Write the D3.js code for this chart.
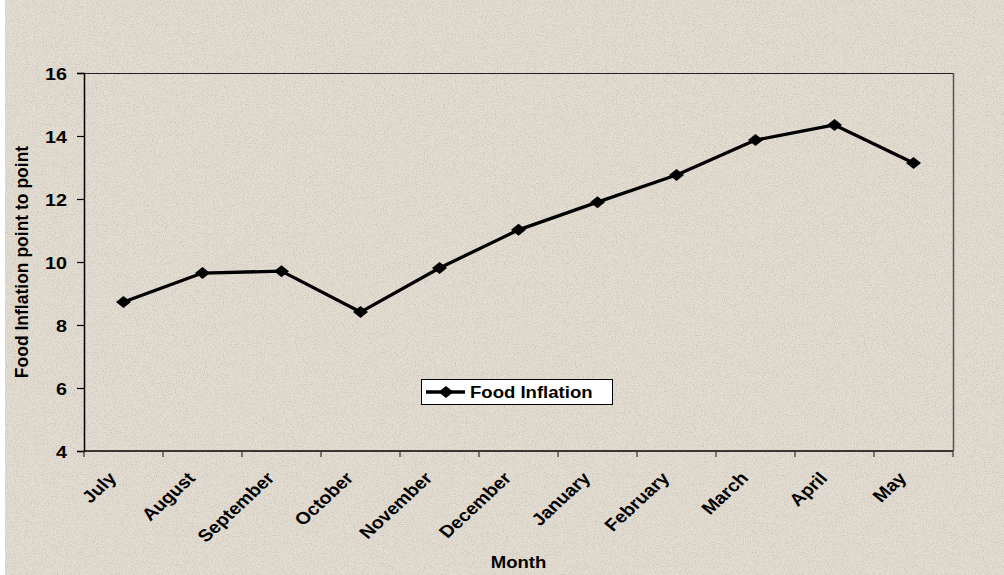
<!DOCTYPE html>
<html>
<head>
<meta charset="utf-8">
<script src="https://cdn.jsdelivr.net/npm/d3@7"></script>
<style>
  html, body { margin: 0; padding: 0; background: #ffffff; }
  svg { display: block; }
  text { font-family: "Liberation Sans", Arial, sans-serif; font-weight: bold; fill: #000; }
</style>
</head>
<body>
<svg id="chart" width="1004" height="575"></svg>
<script>
// Monthly food inflation (point to point, %)
const months = ["July", "August", "September", "October", "November", "December",
                "January", "February", "March", "April", "May"];
const foodInflation = [8.73, 9.65, 9.71, 8.41, 9.81, 11.02, 11.9, 12.76, 13.87, 14.35, 13.14];
const yTicks = [4, 6, 8, 10, 12, 14, 16];
const seriesName = "Food Inflation";
const yTitle = "Food Inflation point to point";
const xTitle = "Month";

const W = 1004, H = 575;
const plot = { left: 84, right: 953, top: 73, bottom: 451 };
const SX = 1.16;   // wide lettering

const svg = d3.select("#chart");

// paper-like textured backdrop
const defs = svg.append("defs");
const f = defs.append("filter").attr("id", "grain")
  .attr("x", 0).attr("y", 0).attr("width", "100%").attr("height", "100%");
f.append("feTurbulence").attr("type", "fractalNoise")
  .attr("baseFrequency", 0.9).attr("numOctaves", 2).attr("seed", 7).attr("result", "noise");
f.append("feColorMatrix").attr("in", "noise").attr("type", "matrix")
  .attr("values", "0 0 0 0 0.45  0 0 0 0 0.42  0 0 0 0 0.38  0 0 0 -2.2 1.25")
  .attr("result", "dots");
f.append("feComposite").attr("in", "dots").attr("in2", "SourceGraphic").attr("operator", "in");

svg.append("rect").attr("x", 5).attr("y", 0).attr("width", W - 5).attr("height", H)
  .attr("fill", "#e4ddd2");
svg.append("rect").attr("x", 5).attr("y", 0).attr("width", W - 5).attr("height", H)
  .attr("fill", "#e4ddd2").attr("filter", "url(#grain)").attr("opacity", 0.55);

const x = d3.scaleBand().domain(months).range([plot.left, plot.right]).padding(0);
const y = d3.scaleLinear().domain([4, 16]).range([plot.bottom, plot.top]);

// plot frame: thin top/right edges
svg.append("line").attr("x1", plot.left).attr("x2", plot.right)
  .attr("y1", plot.top + 0.5).attr("y2", plot.top + 0.5)
  .attr("stroke", "#222").attr("stroke-width", 1);
svg.append("line").attr("x1", plot.right + 0.5).attr("x2", plot.right + 0.5)
  .attr("y1", plot.top).attr("y2", plot.bottom)
  .attr("stroke", "#555").attr("stroke-width", 1.5);

// y axis
const yAxis = d3.axisLeft(y).tickValues(yTicks).tickSize(7).tickPadding(10)
  .tickFormat(d3.format("d"));
const gy = svg.append("g").attr("transform", `translate(${plot.left},0)`).call(yAxis);
gy.select(".domain").attr("stroke", "#000").attr("stroke-width", 1.5);
gy.selectAll(".tick line").attr("stroke", "#000").attr("stroke-width", 1.2);
gy.selectAll(".tick text")
  .style("font-size", "17px").style("font-family", "Liberation Sans, Arial, sans-serif")
  .style("font-weight", "bold").attr("fill", "#000")
  .attr("x", null).attr("dy", null)
  .attr("transform", `translate(-17,6) scale(${SX},1)`);

// x axis: ticks between categories, labels rotated
const gx = svg.append("g").attr("transform", `translate(0,${plot.bottom})`);
gx.append("line").attr("x1", plot.left).attr("x2", plot.right)
  .attr("stroke", "#000").attr("stroke-width", 1.5);
const boundaries = months.map(m => x(m)).concat([x.range()[1]]);
gx.selectAll("line.tk").data(boundaries).join("line").attr("class", "tk")
  .attr("x1", d => d).attr("x2", d => d).attr("y1", 0).attr("y2", 6)
  .attr("stroke", "#333").attr("stroke-width", 1.2);
gx.selectAll("text.lbl").data(months).join("text").attr("class", "lbl")
  .attr("transform", d => `translate(${x(d) + x.bandwidth() / 2 - 6},${28}) scale(${SX},1) rotate(-47)`)
  .attr("text-anchor", "end")
  .style("font-size", "17px")
  .text(d => d);

// axis titles
svg.append("text")
  .attr("transform", `translate(28,${(plot.top + plot.bottom) / 2}) rotate(-90)`)
  .attr("text-anchor", "middle").style("font-size", "17.5px").text(yTitle);
svg.append("text")
  .attr("transform", `translate(${(plot.left + plot.right) / 2},568) scale(${SX},1)`)
  .attr("text-anchor", "middle").style("font-size", "16px").text(xTitle);

// series line
const cx = m => x(m) + x.bandwidth() / 2;
const line = d3.line().x((d, i) => cx(months[i])).y(d => y(d));
svg.append("path").datum(foodInflation).attr("d", line)
  .attr("fill", "none").attr("stroke", "#000").attr("stroke-width", 3.3)
  .attr("stroke-linejoin", "round");

const diamond = "M0,-6L7.5,0L0,6L-7.5,0Z";
svg.selectAll("path.pt").data(foodInflation).join("path").attr("class", "pt")
  .attr("transform", (d, i) => `translate(${cx(months[i])},${y(d)})`)
  .attr("d", diamond).attr("fill", "#000");

// legend
const lg = svg.append("g").attr("transform", "translate(421,379)");
lg.append("rect").attr("x", 0.5).attr("y", 0.5).attr("width", 191).attr("height", 25)
  .attr("fill", "#ffffff").attr("stroke", "#000").attr("stroke-width", 1);
lg.append("line").attr("x1", 5).attr("x2", 44).attr("y1", 13).attr("y2", 13)
  .attr("stroke", "#000").attr("stroke-width", 3.3);
lg.append("path").attr("transform", "translate(25,13)").attr("d", diamond).attr("fill", "#000");
lg.append("text").attr("transform", `translate(49,19) scale(${SX},1)`)
  .style("font-size", "16px").text(seriesName);
</script>
</body>
</html>
